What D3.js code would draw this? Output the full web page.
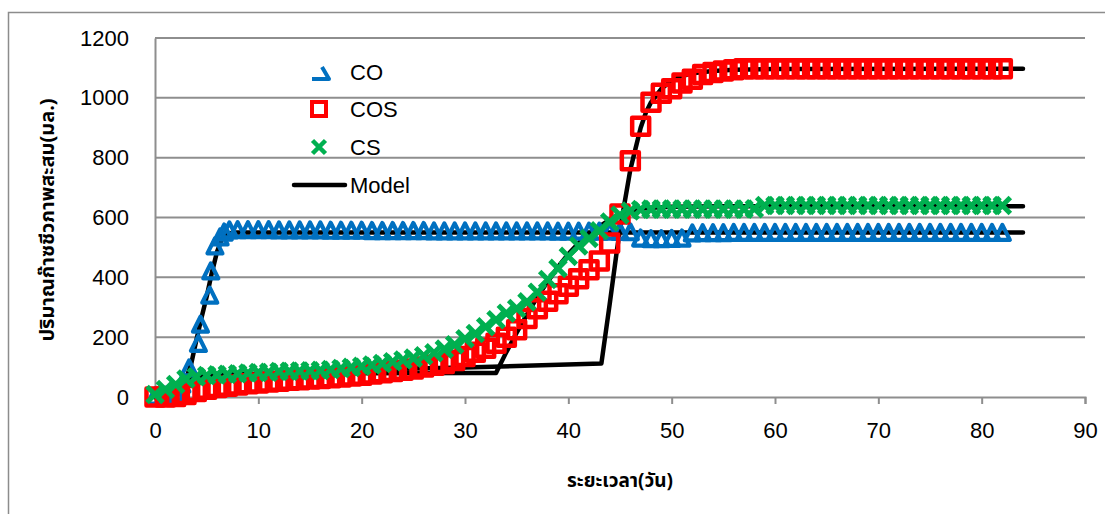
<!DOCTYPE html>
<html>
<head>
<meta charset="utf-8">
<script src="https://cdn.jsdelivr.net/npm/d3@7"></script>
<style>
  body { margin: 0; background: #fff; }
  svg { display: block; }
  .tick-label { font-family: "Liberation Sans", Arial, sans-serif; font-size: 22px; fill: #000; }
  .legend-label { font-family: "Liberation Sans", Arial, sans-serif; font-size: 22px; fill: #000; }
  .thai { font-family: "Noto Sans Thai", "Tahoma", "Noto Sans", "DejaVu Sans", sans-serif; font-weight: bold; fill: #000; }
</style>
</head>
<body>
<svg id="chart" width="1105" height="514"></svg>
<script>
// ---------------- DATA ----------------
const xTicks = [0, 10, 20, 30, 40, 50, 60, 70, 80, 90];
const yTicks = [0, 200, 400, 600, 800, 1000, 1200];
const seriesNames = ["CO", "COS", "CS", "Model"];
const xTitle = "ระยะเวลา(วัน)";
const yTitle = "ปริมาณก๊าซชีวภาพสะสม(มล.)";

// CO (blue triangles)
const coDays = [0, 1, 2, 2.6, 3.3, 4.2, 4.4, 5.3, 5.4, 5.8, 6.3, 6.7, 7.2,
  8, 9, 10, 11, 12, 13, 14, 15, 16, 17, 18, 19, 20, 21, 22, 23, 24, 25, 26, 27, 28, 29,
  30, 31, 32, 33, 34, 35, 36, 37, 38, 39, 40, 41, 42, 43, 44, 45, 46, 47, 48, 49,
  50, 51, 52, 53, 54, 55, 56, 57, 58, 59, 60, 61, 62, 63, 64, 65, 66, 67, 68, 69,
  70, 71, 72, 73, 74, 75, 76, 77, 78, 79, 80, 81, 82];
const coValues = [0, 3, 12, 40, 94, 176, 240, 337, 418, 502, 532, 548, 555,
  556, 556, 556, 556, 555, 555, 555, 555, 555, 554, 554, 554, 554, 553, 553, 553, 553, 553, 553, 552, 552, 552,
  552, 552, 552, 552, 552, 552, 552, 552, 552, 551, 551, 551, 551, 551, 551, 550, 549, 528, 526, 526,
  527, 528, 545, 546, 546, 546, 547, 547, 547, 547, 547, 547, 547, 547, 547, 547, 547, 547, 547, 547,
  547, 547, 547, 547, 547, 547, 547, 547, 547, 547, 547, 547, 547];

// COS (red squares)
const cosDays = [0, 1, 2, 3, 4, 5, 6, 7, 8, 9, 10, 11, 12, 13, 14, 15, 16, 17, 18, 19,
  20, 21, 22, 23, 24, 25, 26, 27, 28, 29, 30, 31, 32, 33, 34, 35, 36, 37, 38, 39,
  40, 41, 42, 43, 44, 45, 46, 47, 48, 49, 50, 51, 52, 53, 54, 55, 56, 57, 58, 59,
  60, 61, 62, 63, 64, 65, 66, 67, 68, 69, 70, 71, 72, 73, 74, 75, 76, 77, 78, 79,
  80, 81, 82];
const cosValues = [0, 0, 2, 8, 18, 26, 32, 36, 40, 44, 47, 50, 53, 56, 58, 60, 62, 64, 67, 70,
  73, 77, 81, 85, 89, 94, 100, 106, 112, 122, 135, 150, 163, 180, 200, 225, 262, 295, 320, 345,
  370, 395, 425, 455, 515, 612, 790, 905, 985, 1015, 1030, 1050, 1062, 1078, 1085, 1090, 1094, 1097, 1097, 1097,
  1097, 1097, 1097, 1097, 1097, 1097, 1097, 1097, 1097, 1097, 1097, 1097, 1097, 1097, 1097, 1097, 1097, 1097, 1097, 1097,
  1097, 1097, 1097];

// CS (green crosses)
const csDays = [0, 1, 2, 3, 4, 5, 6, 7, 8, 9, 10, 11, 12, 13, 14, 15, 16, 17, 18, 19,
  20, 21, 22, 23, 24, 25, 26, 27, 28, 29, 30, 31, 32, 33, 34, 35, 36, 37, 38, 39,
  40, 41, 42, 43, 44, 45, 46, 47, 48, 49, 50, 51, 52, 53, 54, 55, 56, 57, 58, 59,
  60, 61, 62, 63, 64, 65, 66, 67, 68, 69, 70, 71, 72, 73, 74, 75, 76, 77, 78, 79,
  80, 81, 82];
const csValues = [8, 25, 42, 60, 68, 72, 74, 76, 78, 80, 82, 83, 85, 86, 87, 88, 89, 92, 95, 99,
  103, 107, 112, 118, 124, 130, 138, 148, 160, 175, 195, 212, 235, 258, 280, 296, 318, 350, 393, 430,
  470, 505, 530, 556, 585, 608, 622, 627, 628, 628, 628, 628, 628, 628, 628, 628, 628, 628, 629, 640,
  640, 640, 640, 640, 640, 640, 640, 640, 640, 640, 640, 640, 640, 640, 640, 640, 640, 640, 640, 640,
  640, 640, 640];

// Model curves (black lines)
const modelCoDays = [0, 1, 2, 2.5, 3, 3.5, 4, 4.5, 5, 5.5, 6, 6.5, 7, 7.5, 8, 84];
const modelCoValues = [0, 2, 10, 30, 60, 110, 190, 265, 335, 415, 485, 530, 545, 549, 550, 550];
const modelCsDays = [0, 1, 2, 3, 4, 5, 6, 8, 10, 20, 30, 33, 34, 35, 36, 37, 38, 39, 40, 41, 42, 43, 44, 45, 46, 47, 48, 50, 55, 84];
const modelCsValues = [0, 12, 35, 55, 66, 72, 75, 77, 78, 79, 80, 80, 150, 215, 275, 335, 385, 435, 478, 515, 545, 570, 592, 608, 620, 628, 633, 636, 638, 638];
const modelCosDays = [0, 1, 2, 3, 5, 8, 10, 15, 20, 25, 30, 33.5, 43.2, 44, 44.7, 45, 46, 47, 47.5, 48, 49, 50, 51, 52, 54, 56, 60, 84];
const modelCosValues = [0, 5, 18, 35, 55, 70, 76, 85, 90, 95, 99, 102, 112, 310, 490, 560, 760, 900, 950, 985, 1030, 1058, 1073, 1082, 1090, 1094, 1096, 1097];

// ---------------- DRAWING ----------------
const svg = d3.select("#chart");
const x = d3.scaleLinear().domain([0, 90]).range([155, 1085]);
const y = d3.scaleLinear().domain([0, 1200]).range([397, 38]);

// outer border
svg.append("rect").attr("x", 8.5).attr("y", 12.5).attr("width", 1110).attr("height", 600)
  .attr("fill", "none").attr("stroke", "#8c8c8c").attr("stroke-width", 1.5);

// gridlines
svg.append("g").selectAll("line").data(yTicks.filter(d => d > 0)).join("line")
  .attr("x1", x(0)).attr("x2", x(90)).attr("y1", d => y(d)).attr("y2", d => y(d))
  .attr("stroke", "#8e8e8e").attr("stroke-width", 2);

// axes
const xAxis = d3.axisBottom(x).tickValues(xTicks).tickSize(7).tickFormat(d3.format("d"));
const gx = svg.append("g").attr("transform", `translate(0,${y(0)})`).call(xAxis);
gx.select(".domain").attr("stroke", "#8e8e8e").attr("stroke-width", 2);
gx.selectAll(".tick line").attr("stroke", "#8e8e8e").attr("stroke-width", 2);
gx.selectAll(".tick text").attr("class", "tick-label").attr("font-size", null).attr("font-family", null).attr("dy", "0.71em").attr("y", 25);

const yAxis = d3.axisLeft(y).tickValues(yTicks).tickSize(0).tickPadding(26).tickFormat(d3.format("d"));
const gy = svg.append("g").attr("transform", `translate(${x(0)},0)`).call(yAxis);
gy.select(".domain").attr("stroke", "#8e8e8e").attr("stroke-width", 2);
gy.selectAll(".tick text").attr("class", "tick-label").attr("font-size", null).attr("font-family", null);

// axis titles
svg.append("text").attr("class", "thai").attr("font-size", 19)
  .attr("x", 620).attr("y", 487).attr("text-anchor", "middle").text(xTitle);
svg.append("text").attr("class", "thai").attr("font-size", 20)
  .attr("transform", "translate(54,220) rotate(-90)").attr("text-anchor", "middle").text(yTitle);

// model lines (beneath markers)
const line = d3.line().x(d => x(d[0])).y(d => y(d[1]));
const models = [
  d3.zip(modelCoDays, modelCoValues),
  d3.zip(modelCsDays, modelCsValues),
  d3.zip(modelCosDays, modelCosValues)
];
svg.append("g").selectAll("path").data(models).join("path")
  .attr("d", line).attr("fill", "none").attr("stroke", "#000").attr("stroke-width", 4.5)
  .attr("stroke-linejoin", "round").attr("stroke-linecap", "round");

// marker shapes
const triPath = "M0,-8.5 L7.5,6.5 L-7.5,6.5 Z";
const sqPath = "M-8.5,-8.5 L8.5,-8.5 L8.5,8.5 L-8.5,8.5 Z";
const xPath = "M-8,-8 L8,8 M-8,8 L8,-8";

function drawSeries(days, vals, path, color, sw) {
  svg.append("g").selectAll("path").data(d3.zip(days, vals)).join("path")
    .attr("transform", d => `translate(${x(d[0])},${y(d[1])})`)
    .attr("d", path).attr("fill", "none").attr("stroke", color).attr("stroke-width", sw)
    .attr("stroke-linejoin", "round");
}
drawSeries(coDays, coValues, triPath, "#0070C0", 4.2);
drawSeries(cosDays, cosValues, sqPath, "#FF0000", 4.5);
drawSeries(csDays, csValues, xPath, "#00B050", 5);

// legend
const legendY = [72, 109, 147, 185];
const lg = svg.append("g");
lg.append("path").attr("d", "M312,79 L329,79 L322,67").attr("fill", "none")
  .attr("stroke", "#0070C0").attr("stroke-width", 4).attr("stroke-linejoin", "round");
lg.append("path").attr("transform", `translate(319,${legendY[1]})`).attr("d", "M-7,-7 L7,-7 L7,7 L-7,7 Z")
  .attr("fill", "none").attr("stroke", "#FF0000").attr("stroke-width", 4);
lg.append("path").attr("transform", `translate(319,${legendY[2]})`).attr("d", "M-6.5,-6.5 L6.5,6.5 M-6.5,6.5 L6.5,-6.5")
  .attr("fill", "none").attr("stroke", "#00B050").attr("stroke-width", 4.5);
lg.append("line").attr("x1", 294).attr("x2", 345).attr("y1", legendY[3]).attr("y2", legendY[3])
  .attr("stroke", "#000").attr("stroke-width", 4.5).attr("stroke-linecap", "round");
lg.selectAll("text").data(seriesNames).join("text").attr("class", "legend-label")
  .attr("x", 350).attr("y", (d, i) => legendY[i]).attr("dy", "0.36em").text(d => d);
</script>
</body>
</html>
